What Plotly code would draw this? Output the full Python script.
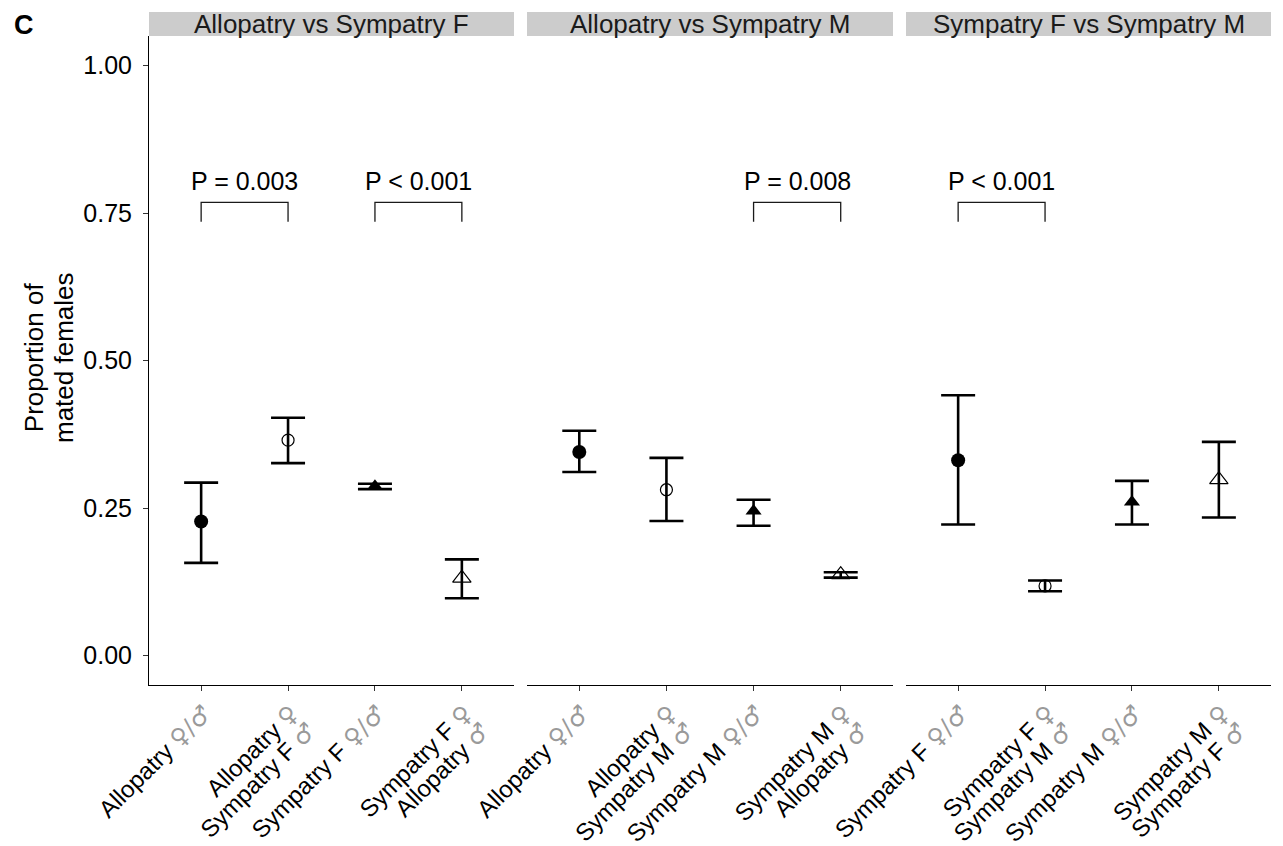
import plotly.graph_objects as go

W, H = 1283, 846

panel_titles = ["Allopatry vs Sympatry F", "Allopatry vs Sympatry M", "Sympatry F vs Sympatry M"]

female_pop = [
    ["Allopatry", "Allopatry", "Sympatry F", "Sympatry F"],
    ["Allopatry", "Allopatry", "Sympatry M", "Sympatry M"],
    ["Sympatry F", "Sympatry F", "Sympatry M", "Sympatry M"],
]
male_pop = [
    ["Allopatry", "Sympatry F", "Sympatry F", "Allopatry"],
    ["Allopatry", "Sympatry M", "Sympatry M", "Allopatry"],
    ["Sympatry F", "Sympatry M", "Sympatry M", "Sympatry F"],
]

means = [
    [0.227, 0.365, 0.287, 0.131],
    [0.345, 0.281, 0.245, 0.137],
    [0.331, 0.118, 0.260, 0.298],
]
lower = [
    [0.157, 0.326, 0.282, 0.097],
    [0.311, 0.228, 0.220, 0.132],
    [0.222, 0.109, 0.222, 0.234],
]
upper = [
    [0.293, 0.403, 0.291, 0.163],
    [0.381, 0.335, 0.264, 0.141],
    [0.441, 0.127, 0.296, 0.362],
]

# comparisons: (panel, index a, index b, label)
comparisons = [
    (0, 0, 1, "P = 0.003"),
    (0, 2, 3, "P < 0.001"),
    (1, 2, 3, "P = 0.008"),
    (2, 0, 1, "P < 0.001"),
]
bracket_top = 0.768
bracket_bottom = 0.735
p_label_y = 0.805

y_ticks = [0.0, 0.25, 0.5, 0.75, 1.0]
y_ticktext = ["0.00", "0.25", "0.50", "0.75", "1.00"]
y_title_lines = ["Proportion of", "mated females"]

FONT = "Liberation Sans, Arial, sans-serif"
SYM = '<span style="font-family:DejaVu Sans;color:#9a9a9a">%s</span>'
FEM = SYM % "\u2640"
MAL = SYM % "\u2642"
SLASH = SYM % "/"
BIG = '<span style="font-size:24px">%s</span>'


def make_label(f, m):
    if f == m:
        return BIG % f"{f} {FEM}{SLASH}{MAL}"
    return BIG % f"{f} {FEM}" + "<br>" + BIG % f"{m} {MAL}"


marker_styles = [
    dict(symbol="circle", size=14, color="black"),
    dict(symbol="circle-open", size=12, color="black", line=dict(width=1.2, color="black")),
    dict(symbol="triangle-up", size=14, color="black"),
    dict(symbol="triangle-up-open", size=16, color="black", line=dict(width=1.2, color="black")),
]

# panel domains in pixels
px_left = [149, 527, 906]
px_right = [514, 893, 1271]
plot_top, plot_bottom = 36, 685
strip_top = 12

fig = go.Figure()

for p in range(3):
    xa = "x" if p == 0 else f"x{p+1}"
    ya = "y" if p == 0 else f"y{p+1}"
    labels = [make_label(f, m) for f, m in zip(female_pop[p], male_pop[p])]
    for i in range(4):
        fig.add_trace(go.Scatter(
            x=[labels[i]], y=[means[p][i]],
            mode="markers",
            marker=marker_styles[i],
            error_y=dict(type="data", symmetric=False,
                         array=[upper[p][i] - means[p][i]],
                         arrayminus=[means[p][i] - lower[p][i]],
                         color="black", thickness=2.6, width=17),
            xaxis=xa, yaxis=ya, showlegend=False, hoverinfo="skip",
        ))

for (p, a, b, txt) in comparisons:
    xa = "x" if p == 0 else f"x{p+1}"
    ya = "y" if p == 0 else f"y{p+1}"
    labels = [make_label(f, m) for f, m in zip(female_pop[p], male_pop[p])]
    fig.add_trace(go.Scatter(
        x=[labels[a], labels[a], labels[b], labels[b]],
        y=[bracket_bottom, bracket_top, bracket_top, bracket_bottom],
        mode="lines", line=dict(color="#1a1a1a", width=1.3),
        xaxis=xa, yaxis=ya, showlegend=False, hoverinfo="skip",
    ))
    fig.add_annotation(x=(a + b) / 2, y=p_label_y, xref=xa, yref=ya,
                       text=txt, showarrow=False,
                       font=dict(family=FONT, size=25, color="black"),
                       xanchor="center", yanchor="middle")

layout = dict(
    width=W, height=H,
    margin=dict(l=0, r=0, t=0, b=0, autoexpand=False),
    paper_bgcolor="white", plot_bgcolor="white",
    font=dict(family=FONT, color="black"),
    showlegend=False,
)

y_dom = [1 - plot_bottom / H, 1 - plot_top / H]
for p in range(3):
    suffix = "" if p == 0 else str(p + 1)
    layout["xaxis" + suffix] = dict(
        domain=[px_left[p] / W, px_right[p] / W],
        type="category", range=[-0.6, 3.6], automargin=False,
        showline=True, linecolor="black", linewidth=1,
        ticks="outside", ticklen=5, tickwidth=1, tickcolor="#333333",
        tickangle=-45, tickfont=dict(family=FONT, size=19, color="black"),
        ticklabelshift=5, ticklabelstandoff=4,
        showgrid=False, zeroline=False, fixedrange=True,
        anchor="y" if p == 0 else "y" + suffix,
    )
    layout["yaxis" + suffix] = dict(
        domain=y_dom, range=[-0.05, 1.05], automargin=False,
        showline=(p == 0), linecolor="black", linewidth=1,
        ticks="outside" if p == 0 else "", ticklen=5, tickwidth=1, tickcolor="#333333",
        tickvals=y_ticks, ticktext=y_ticktext, showticklabels=(p == 0),
        tickfont=dict(family=FONT, size=25, color="black"),
        ticklabelstandoff=6,
        showgrid=False, zeroline=False, fixedrange=True,
        anchor="x" if p == 0 else "x" + suffix,
    )
    if p > 0:
        layout["yaxis" + suffix]["matches"] = "y"

fig.update_layout(**layout)

# strips
for p in range(3):
    fig.add_shape(type="rect", xref="paper", yref="paper",
                  x0=px_left[p] / W, x1=px_right[p] / W,
                  y0=1 - plot_top / H, y1=1 - strip_top / H,
                  fillcolor="#CCCCCC", line=dict(width=0), layer="below")
    fig.add_annotation(x=(px_left[p] + px_right[p]) / 2 / W, y=1 - 41 / H,
                       xref="paper", yref="paper", text=panel_titles[p],
                       showarrow=False, xanchor="center", yanchor="bottom",
                       font=dict(family=FONT, size=26, color="#1a1a1a"))

fig.add_annotation(x=49 / W, y=1 - 357 / H, xref="paper", yref="paper",
                   text="<br>".join('<span style="font-size:26px">%s</span>' % t for t in y_title_lines),
                   textangle=-90,
                   showarrow=False, xanchor="center", yanchor="middle",
                   font=dict(family=FONT, size=23, color="black"))

fig.add_annotation(x=12 / W, y=1 - 8 / H, xref="paper", yref="paper",
                   text="<b>C</b>", showarrow=False, xanchor="left", yanchor="top",
                   font=dict(family=FONT, size=27, color="black"))

fig.write_html("out.html")
